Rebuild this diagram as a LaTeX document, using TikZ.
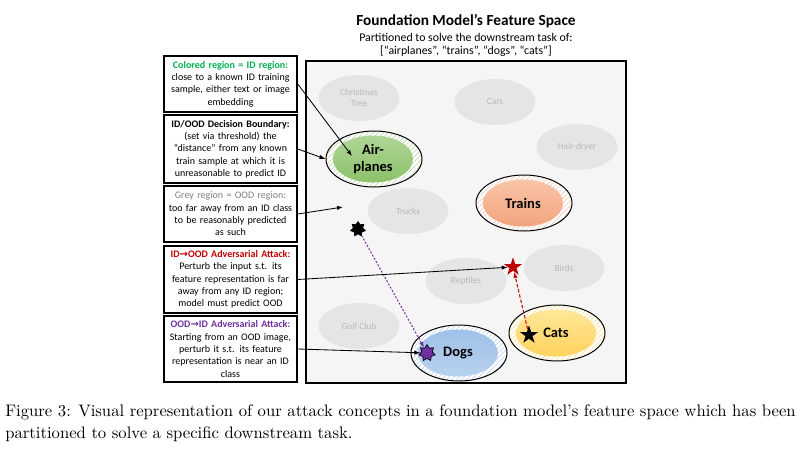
\documentclass[tikz,border=0pt]{standalone}
\usepackage{fontspec}
\usepackage{tikz}
\usetikzlibrary{arrows.meta,positioning,shapes.geometric,patterns}
\newfontfamily\calibri{Carlito}
\newfontfamily\symfont{DejaVu Sans}
\definecolor{IDGreen}{RGB}{0,176,80}
\definecolor{AtkRed}{RGB}{192,0,0}
\definecolor{AtkPurple}{RGB}{112,48,160}
\definecolor{SpaceFill}{RGB}{245,245,245}
\definecolor{OODFill}{RGB}{229,229,229}
\definecolor{OODText}{RGB}{185,185,185}
\definecolor{NoteGrey}{RGB}{128,128,128}
\definecolor{AirTop}{RGB}{176,214,150}
\definecolor{AirBot}{RGB}{140,192,106}
\definecolor{TrainTop}{RGB}{249,197,168}
\definecolor{TrainBot}{RGB}{243,163,126}
\definecolor{CatTop}{RGB}{255,230,153}
\definecolor{CatBot}{RGB}{255,211,92}
\definecolor{DogTop}{RGB}{159,192,232}
\definecolor{DogBot}{RGB}{183,209,239}

\begin{document}
\begin{tikzpicture}[
    x=0.6pt,y=-0.6pt,
    note/.style={draw=black, line width=0.9pt, fill=white, minimum width=79.8pt, text width=77pt, align=center, inner sep=1pt, font=\calibri\fontsize{6}{7.4}\selectfont},
    oodreg/.style={ellipse, fill=OODFill, minimum width=48.6pt, minimum height=27.6pt, inner sep=0pt, align=center, text=OODText, font=\calibri\fontsize{5.6}{6.8}\selectfont},
    idring/.style={ellipse, draw=black, line width=0.6pt, preaction={fill=white}, pattern=north east lines, minimum width=57.6pt, minimum height=33.6pt},
    idcore/.style={ellipse, minimum width=48pt, minimum height=28.2pt, inner sep=0pt, align=center, font=\calibri\bfseries\fontsize{8.7}{9.8}\selectfont},
    lead/.style={-{Latex[length=3.6pt,width=2.6pt]}, line width=0.5pt},
    burst/.style={star, star points=7, star point ratio=1.55, draw=black, line width=0.4pt, inner sep=0pt},
    pointstar/.style={star, star points=5, star point ratio=2.6, inner sep=0pt, minimum size=11.5pt}
  ]
    \useasboundingbox (0,0) rectangle (797,461);
    \node[font=\calibri\bfseries\fontsize{9.2}{11}\selectfont] (title) at (466,21) {Foundation Model’s Feature Space};
    \node[font=\calibri\fontsize{7.1}{7.9}\selectfont, align=center] (subtitle) at (466,45) {Partitioned to solve the downstream task of:\\{}[“airplanes”, “trains”, “dogs”, “cats”]};
    \node[draw=black, line width=1.2pt, fill=SpaceFill, minimum width=192pt, minimum height=193.2pt] (space) at (466,222) {};
    \foreach \n/\x/\y/\t in {tree/359/98/{Christmas\\Tree},cars/495/102/Cars,dryer/577/147/Hair-dryer,trucks/408/211/Trucks,reptiles/466/281/Reptiles,birds/564/268/Birds,golf/359/326/Golf Club} {
      \node[oodreg] (\n) at (\x,\y) {\t};
    }
    \node[idring, pattern color=AirBot!60] (airring) at (374,159) {};
    \node[idcore, top color=AirTop, bottom color=AirBot] (air) at (373,159) {Air-\\planes};
    \node[idring, pattern color=TrainBot!60] (trainring) at (524,203) {};
    \node[idcore, top color=TrainTop, bottom color=TrainBot] (trains) at (523,203) {Trains};
    \node[idring, pattern color=CatBot!70] (catring) at (557,333) {};
    \node[idcore, top color=CatTop, bottom color=CatBot] (cats) at (556,333) {Cats};
    \node[idring, pattern color=DogTop!70] (dogring) at (459,353) {};
    \node[idcore, top color=DogTop, bottom color=DogBot] (dogs) at (458,353) {Dogs};
    \node[burst, fill=black, minimum size=9pt] (oodpoint) at (358,229) {};
    \node[burst, fill=AtkPurple, minimum size=10pt] (dogpoint) at (427,353) {};
    \node[pointstar, fill=AtkRed] (redstar) at (513,267) {};
    \node[pointstar, fill=black] (catstar) at (529,335) {};
    \draw[lead, AtkPurple, line width=0.6pt, dash pattern=on 1.2pt off 1pt] (oodpoint) -- (dogpoint);
    \draw[lead, AtkRed, line width=0.6pt, dash pattern=on 2pt off 1.2pt] (catstar) -- (redstar);
    \node[note, minimum height=33.6pt] (note1) at (230.5,84) {\textcolor{IDGreen}{\bfseries Colored region = ID region:}\\close to a known ID training\\sample, either text or image\\embedding};
    \node[note, minimum height=40.8pt] (note2) at (230.5,149) {{\bfseries ID/OOD Decision Boundary:}\\(set via threshold) the\\“distance” from any known\\train sample at which it is\\unreasonable to predict ID};
    \node[note, minimum height=33.6pt] (note3) at (230.5,214) {\textcolor{NoteGrey}{Grey region = OOD region:}\\too far away from an ID class\\to be reasonably predicted\\as such};
    \node[note, minimum height=40.2pt] (note4) at (230.5,279.5) {\textcolor{AtkRed}{\bfseries ID{\symfont\bfseries →}OOD Adversarial Attack:}\\Perturb the input s.t. its\\feature representation is far\\away from any ID region;\\model must predict OOD};
    \node[note, minimum height=39.6pt] (note5) at (230.5,349) {\textcolor{AtkPurple}{\bfseries OOD{\symfont\bfseries →}ID Adversarial Attack:}\\Starting from an OOD image,\\perturb it s.t. its feature\\representation is near an ID\\class};
    \coordinate (airtip) at (352,156);
    \coordinate (oodtip) at (343,207);
    \draw[lead] (note1.east) -- (airtip);
    \draw[lead] (note2.east) -- (airring.west);
    \draw[lead] (note3.east) -- (oodtip);
    \draw[lead] (note4.east) -- (redstar);
    \draw[lead] (note5.east) -- (dogpoint);
    \node[anchor=base west, inner sep=0pt, font=\fontsize{10}{13.2}\selectfont] (caption1) at (5,416) {Figure 3: Visual representation of our attack concepts in a foundation model’s feature space which has been};
    \node[anchor=base west, inner sep=0pt, font=\fontsize{10}{13.2}\selectfont] (caption2) at (5,438) {partitioned to solve a specific downstream task.};
  \end{tikzpicture}
\end{document}
